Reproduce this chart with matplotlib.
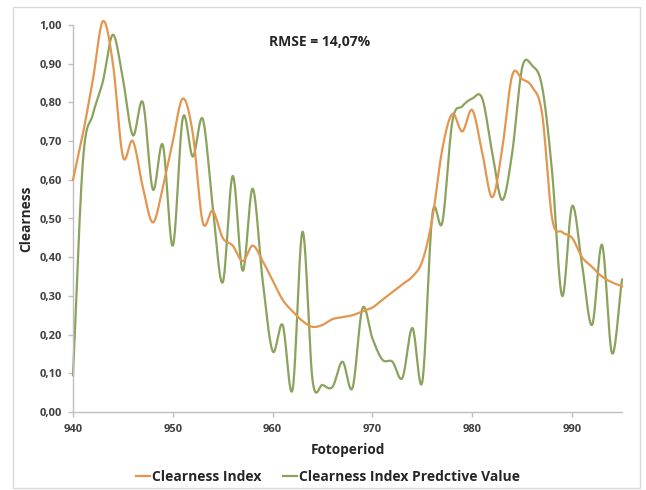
import numpy as np
import matplotlib
matplotlib.use("Agg")
import matplotlib.pyplot as plt
from matplotlib.patches import Rectangle

# Photoperiod index (x) and the two series
fotoperiod = list(range(940, 996))

clearness_index = [
    0.60, 0.72, 0.86, 1.01, 0.90, 0.66, 0.70, 0.58, 0.49, 0.58,
    0.70, 0.81, 0.72, 0.49, 0.52, 0.45, 0.43, 0.39, 0.43, 0.39,
    0.34, 0.29, 0.26, 0.235, 0.22, 0.225, 0.24, 0.245, 0.25, 0.26,
    0.27, 0.29, 0.31, 0.33, 0.35, 0.39, 0.50, 0.68, 0.77, 0.725,
    0.78, 0.67, 0.555, 0.68, 0.87, 0.86, 0.84, 0.77, 0.50, 0.465,
    0.45, 0.40, 0.375, 0.35, 0.335, 0.325,
]

predictive_value = [
    0.095, 0.65, 0.77, 0.855, 0.975, 0.86, 0.715, 0.80, 0.575, 0.69,
    0.43, 0.76, 0.66, 0.757, 0.53, 0.335, 0.61, 0.365, 0.577, 0.34,
    0.157, 0.225, 0.058, 0.466, 0.082, 0.07, 0.065, 0.13, 0.062, 0.268,
    0.19, 0.135, 0.13, 0.088, 0.217, 0.079, 0.51, 0.49, 0.75, 0.79,
    0.81, 0.81, 0.67, 0.548, 0.67, 0.89, 0.895, 0.84, 0.62, 0.30,
    0.532, 0.38, 0.225, 0.432, 0.152, 0.342,
]

y_ticks = [0.0, 0.1, 0.2, 0.3, 0.4, 0.5, 0.6, 0.7, 0.8, 0.9, 1.0]
x_ticks = [940, 950, 960, 970, 980, 990]


def smooth(xs, ys, n=24):
    """Catmull-Rom spline through the points, like a spreadsheet 'smoothed line'."""
    p = np.column_stack([xs, ys]).astype(float)
    p = np.vstack([p[0] * 2 - p[1], p, p[-1] * 2 - p[-2]])
    out = []
    t = np.linspace(0, 1, n, endpoint=False)[:, None]
    for i in range(1, len(p) - 2):
        p0, p1, p2, p3 = p[i - 1], p[i], p[i + 1], p[i + 2]
        seg = 0.5 * ((2 * p1) + (-p0 + p2) * t +
                     (2 * p0 - 5 * p1 + 4 * p2 - p3) * t ** 2 +
                     (-p0 + 3 * p1 - 3 * p2 + p3) * t ** 3)
        out.append(seg)
    out.append(p[-2][None, :])
    out = np.vstack(out)
    return out[:, 0], out[:, 1]


plt.rcParams['font.family'] = ['Open Sans', 'DejaVu Sans']

W, H = 646, 490
fig = plt.figure(figsize=(W / 100, H / 100), dpi=100)
fig.patch.set_facecolor('white')

# chart frame
fig.patches.append(Rectangle((13 / W, 2 / H), 627 / W, 481 / H,
                             transform=fig.transFigure, fill=False,
                             edgecolor='#d9d9d9', linewidth=1.0))

left, right, top, bottom = 73, 622, 25, 412
ax = fig.add_axes([left / W, 1 - bottom / H, (right - left) / W, (bottom - top) / H])

orange = '#e3964f'
green = '#8aa35c'

xo, yo = smooth(fotoperiod, clearness_index)
xg, yg = smooth(fotoperiod, predictive_value)
ax.plot(xo, yo, color=orange, linewidth=1.6, label='Clearness Index', clip_on=False, zorder=3)
ax.plot(xg, yg, color=green, linewidth=1.6, label='Clearness Index Predctive Value', clip_on=False, zorder=2)

ax.set_xlim(940, 995)
ax.set_ylim(0, 1.0)
ax.set_xticks(x_ticks)
ax.set_yticks(y_ticks)
ax.set_yticklabels([f"{v:.2f}".replace('.', ',') for v in y_ticks])

for s in ['top', 'right']:
    ax.spines[s].set_visible(False)
for s in ['left', 'bottom']:
    ax.spines[s].set_color('#bfbfbf')
    ax.spines[s].set_linewidth(1.0)

ax.tick_params(axis='both', colors='#bfbfbf', labelcolor='#404040',
               labelsize=8, length=3.6, width=1.0, direction='out')
ax.tick_params(axis='y', pad=4.5)
ax.tick_params(axis='x', pad=5)
for lbl in ax.get_xticklabels() + ax.get_yticklabels():
    lbl.set_fontweight('bold')

ax.set_ylabel('Clearness', fontsize=9.8, fontweight='bold', color='#262626', labelpad=4)
ax.set_xlabel('Fotoperiod', fontsize=9.8, fontweight='bold', color='#262626', labelpad=6)

ax.text(0.449, 0.955, 'RMSE = 14,07%', transform=ax.transAxes, ha='center', va='center',
        fontsize=10, fontweight='bold', color='#262626')

leg = fig.legend(loc='center', bbox_to_anchor=(328 / W, 1 - 477 / H), ncol=2,
                 frameon=False, handlelength=1.0, handletextpad=0.1,
                 columnspacing=1.6, prop={'weight': 'bold', 'size': 10})
for t in leg.get_texts():
    t.set_color('#262626')

fig.savefig('out.png', dpi=100, facecolor='white')
